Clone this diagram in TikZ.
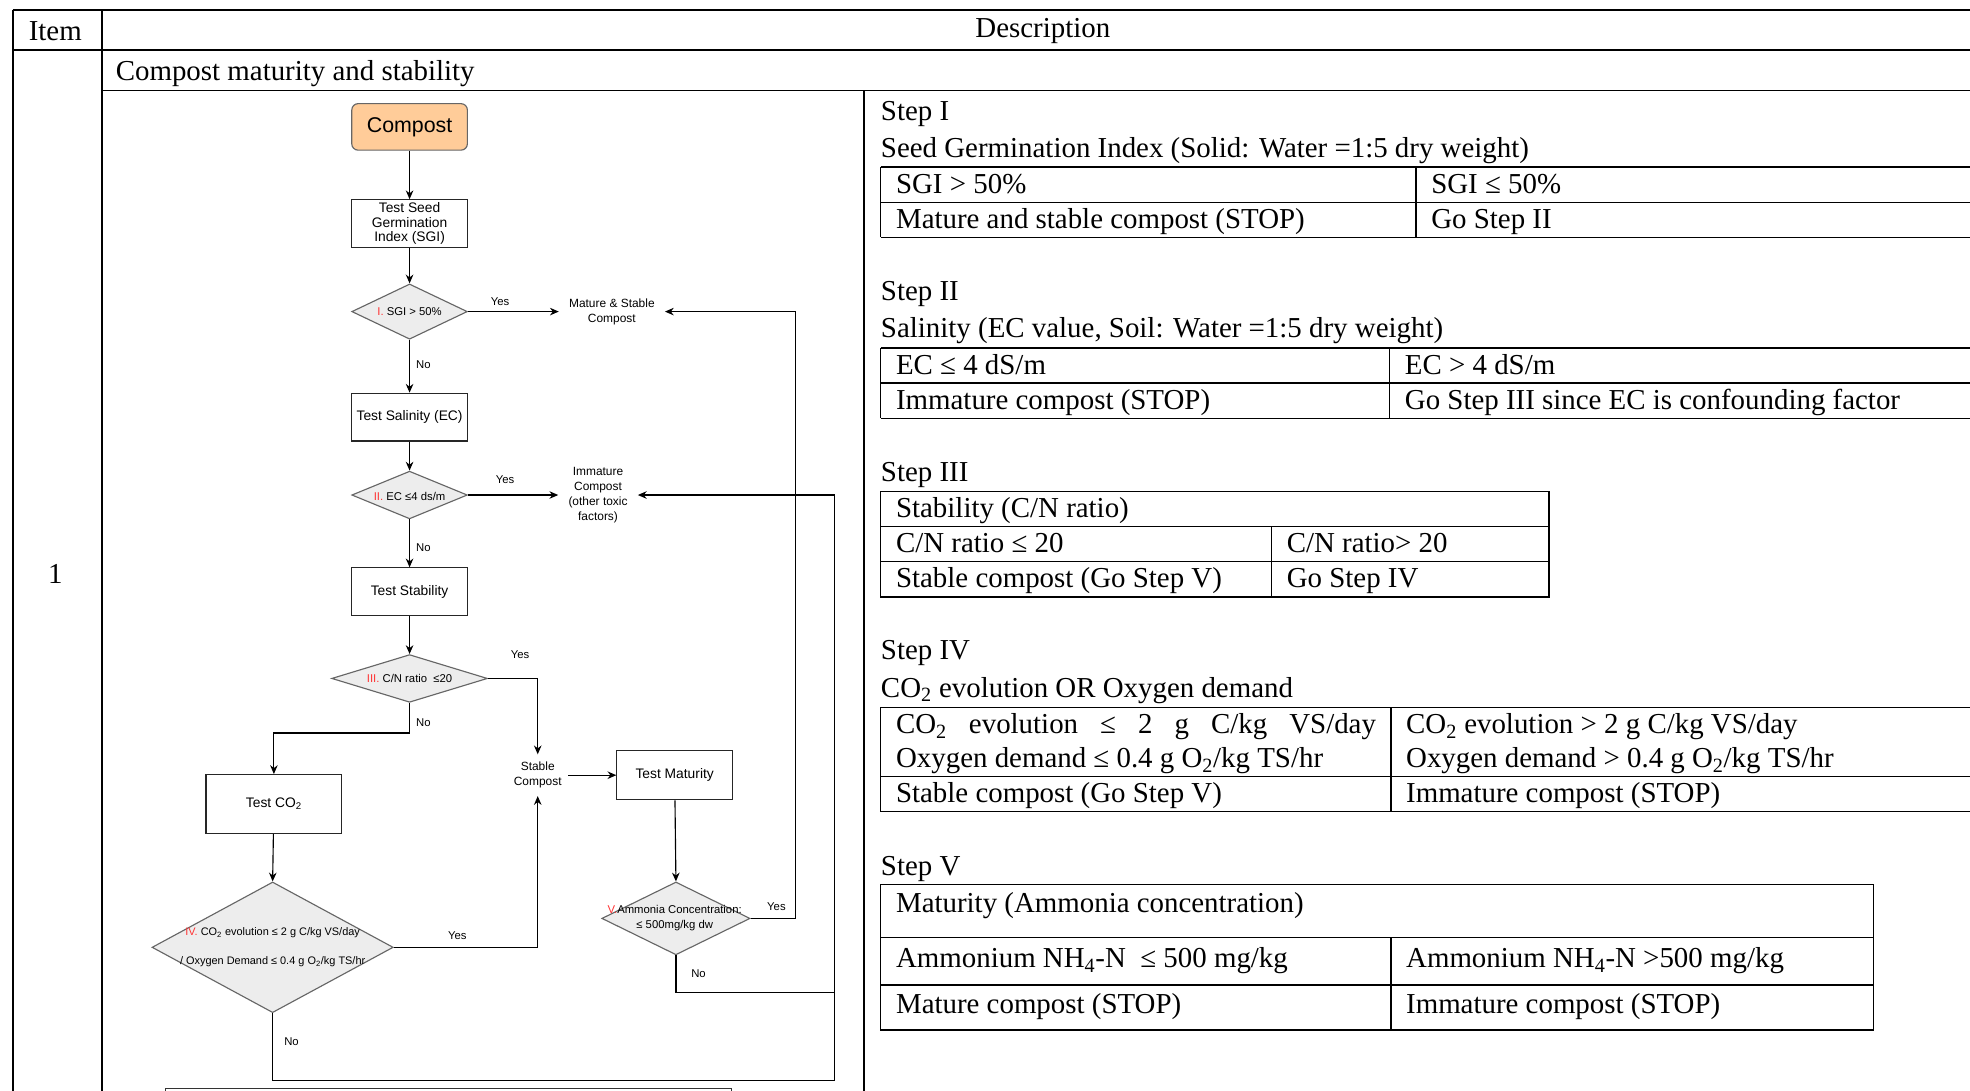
\documentclass[tikz,border=0pt]{standalone}
\usepackage{fontspec}
\setmainfont{Liberation Serif}
\newfontfamily\arial{Liberation Sans}
\usetikzlibrary{shapes.geometric,arrows.meta}
\definecolor{peach}{HTML}{FFCC99}
\definecolor{redtx}{HTML}{FF3333}
\newcommand{\rd}[1]{\textcolor{redtx}{#1}}
\begin{document}
\begin{tikzpicture}[x=1pt,y=-1pt,
  box/.style={draw=black!85, line width=0.9pt, fill=white, inner sep=0pt, align=center, font=\arial\fontsize{11}{11.5}\selectfont},
  dia/.style={shape=diamond, draw=black!60, fill=black!7, line width=0.9pt, inner sep=0pt},
  dtext/.style={inner sep=0pt, align=center, font=\arial\fontsize{9}{12}\selectfont},
  lbl/.style={inner sep=0pt, font=\arial\fontsize{9}{10}\selectfont},
  outl/.style={inner xsep=8pt, inner ysep=2pt, align=center, font=\arial\fontsize{9.5}{12}\selectfont},
  arr/.style={-{Stealth[length=7pt,width=6pt]}, line width=0.9pt},
  conn/.style={line width=0.9pt},
  tline/.style={line width=1.5pt},
  cline/.style={line width=1.2pt},
  tt/.style={anchor=base west, inner sep=0pt, font=\fontsize{23}{27}\selectfont},
  tc/.style={inner sep=0pt, font=\fontsize{23}{27}\selectfont}]
\useasboundingbox (0,0) rectangle (1568,868);
\clip (0,0) rectangle (1568,868);
\fill[white] (0,0) rectangle (1568,868);

% ---- outer table ----
\draw[tline] (10,8) -- (1580,8);
\draw[tline] (10,40) -- (1580,40);
\draw[tline] (81,72) -- (1580,72);
\draw[tline] (10,8) -- (10,880);
\draw[tline] (81,8) -- (81,880);
\draw[tline] (688,72) -- (688,880);
\node[tc] (hitem) at (44,25) {Item};
\node[tc] (hdesc) at (830,25) {Description};
\node[tt] (hcomp) at (92,64) {Compost maturity and stability};
\node[tc] (hone) at (44,457) {1};

% ---- flowchart ----
\node[draw=black!60, line width=0.9pt, fill=peach, rounded corners=5pt, minimum width=92pt, minimum height=37pt, inner sep=0pt, font=\arial\fontsize{17}{18}\selectfont] (comp) at (326,101) {Compost};
\node[box, minimum width=92pt, minimum height=38pt] (sgi) at (326,178) {Test Seed\\Germination\\Index (SGI)};
\node[dia, minimum width=92pt, minimum height=44pt] (d1) at (326,248) {};
\node[dtext] (d1t) at (326,248) {\rd{I.} SGI > 50\%};
\node[outl] (mat) at (487,248) {Mature \& Stable\\Compost};
\node[box, minimum width=92pt, minimum height=38pt] (sal) at (326,332) {Test Salinity (EC)};
\node[dia, minimum width=92pt, minimum height=38pt] (d2) at (326,394) {};
\node[dtext] (d2t) at (326,395) {\rd{II.} EC ≤4 ds/m};
\node[outl] (imm) at (476,394) {Immature\\Compost\\(other toxic\\factors)};
\node[box, minimum width=92pt, minimum height=38pt] (stab) at (326,471) {Test Stability};
\node[dia, minimum width=124pt, minimum height=38pt] (d3) at (326,540) {};
\node[dtext] (d3t) at (326,540) {\rd{III.} C/N ratio\ \ ≤20};
\node[outl, inner xsep=5pt, inner ysep=6pt] (stc) at (428,617) {Stable\\Compost};
\node[box, minimum width=108pt, minimum height=47pt] (co2) at (218,640) {Test CO\textsubscript{2}};
\node[dia, minimum width=192pt, minimum height=104pt] (d4) at (217,754) {};
\node[dtext, font=\arial\fontsize{8.7}{23}\selectfont] (d4t) at (217,754) {\rd{IV.} CO\textsubscript{2} evolution ≤ 2 g C/kg VS/day\\/ Oxygen Demand ≤ 0.4 g O\textsubscript{2}/kg TS/hr};
\node[box, minimum width=92pt, minimum height=39pt] (tmat) at (537,617) {Test Maturity};
\node[dia, minimum width=118pt, minimum height=58pt] (d5) at (538,731) {};
\node[dtext] (d5t) at (537,731) {\rd{V.}Ammonia Concentration:\\≤ 500mg/kg dw};
\node[draw=black!80, line width=1pt, minimum width=451pt, minimum height=40pt, inner sep=0pt, anchor=north west] (nextbox) at (131,866) {};

\coordinate (c1) at (664,860);
\coordinate (c2) at (633,731);
\coordinate (c3) at (664,790);

\draw[arr] (comp) -- (sgi);
\draw[arr] (sgi) -- (d1.north);
\draw[arr] (d1.east) -- (mat.west);
\draw[arr] (d1.south) -- (sal.north);
\draw[arr] (sal) -- (d2.north);
\draw[arr] (d2.east) -- (imm.west);
\draw[arr] (d2.south) -- (stab.north);
\draw[arr] (stab) -- (d3.north);
\draw[arr] (d3.east) -| (stc.north);
\draw[arr] (d3.south) -- ++(0,24) -| (co2.north);
\draw[arr] (co2) -- (d4.north);
\draw[arr] (d4.east) -| (stc.south);
\draw[arr] (d4.south) |- (c1) |- (imm.east);
\draw[arr] (stc.east) -- (tmat.west);
\draw[arr] (tmat) -- (d5.north);
\draw[arr] (d5.east) -- (c2) |- (mat.east);
\draw[conn] (d5.south) |- (c3);

\node[lbl] (y1) at (398,240) {Yes};
\node[lbl] (n1) at (337,290) {No};
\node[lbl] (y2) at (402,382) {Yes};
\node[lbl] (n2) at (337,436) {No};
\node[lbl] (y3) at (414,521) {Yes};
\node[lbl] (n3) at (337,575) {No};
\node[lbl] (y4) at (364,745) {Yes};
\node[lbl] (n4) at (232,829) {No};
\node[lbl] (y5) at (618,722) {Yes};
\node[lbl] (n5) at (556,775) {No};

% ---- Step I ----
\node[tt] (s1) at (701,96) {Step I};
\node[tt] (s1a) at (701,125) {Seed Germination Index (Solid: Water =1:5 dry weight)};
\draw[cline] (701,133) -- (1580,133) (701,161) -- (1580,161) (701,189) -- (1580,189);
\draw[cline] (701,133) -- (701,189) (1127,133) -- (1127,189);
\node[tt] (s1b) at (713,154) {SGI > 50\%};
\node[tt] (s1c) at (1139,154) {SGI ≤ 50\%};
\node[tt] (s1d) at (713,182) {Mature and stable compost (STOP)};
\node[tt] (s1e) at (1139,182) {Go Step II};

% ---- Step II ----
\node[tt] (s2) at (701,239) {Step II};
\node[tt] (s2a) at (701,269) {Salinity (EC value, Soil: Water =1:5 dry weight)};
\draw[cline] (701,277) -- (1580,277) (701,305) -- (1580,305) (701,333) -- (1580,333);
\draw[cline] (701,277) -- (701,333) (1106,277) -- (1106,333);
\node[tt] (s2b) at (713,298) {EC ≤ 4 dS/m};
\node[tt] (s2c) at (1118,298) {EC > 4 dS/m};
\node[tt] (s2d) at (713,326) {Immature compost (STOP)};
\node[tt] (s2e) at (1118,326) {Go Step III since EC is confounding factor};

% ---- Step III ----
\node[tt] (s3) at (701,383) {Step III};
\draw[cline] (701,391) rectangle (1233,475);
\draw[cline] (701,419) -- (1233,419) (701,447) -- (1233,447) (1012,419) -- (1012,475);
\node[tt] (s3a) at (713,412) {Stability (C/N ratio)};
\node[tt] (s3b) at (713,440) {C/N ratio ≤ 20};
\node[tt] (s3c) at (1024,440) {C/N ratio> 20};
\node[tt] (s3d) at (713,468) {Stable compost (Go Step V)};
\node[tt] (s3e) at (1024,468) {Go Step IV};

% ---- Step IV ----
\node[tt] (s4) at (701,525) {Step IV};
\node[tt] (s4a) at (701,555) {CO\textsubscript{2} evolution OR Oxygen demand};
\draw[cline] (701,563) -- (1580,563) (701,618) -- (1580,618) (701,646) -- (1580,646);
\draw[cline] (701,563) -- (701,646) (1107,563) -- (1107,646);
\node[tt] (s4b) at (713,584) {\makebox[382pt][s]{CO\textsubscript{2} evolution ≤ 2 g C/kg VS/day}};
\node[tt] (s4c) at (713,611) {Oxygen demand ≤ 0.4 g O\textsubscript{2}/kg TS/hr};
\node[tt] (s4d) at (1119,584) {CO\textsubscript{2} evolution > 2 g C/kg VS/day};
\node[tt] (s4e) at (1119,611) {Oxygen demand > 0.4 g O\textsubscript{2}/kg TS/hr};
\node[tt] (s4f) at (713,639) {Stable compost (Go Step V)};
\node[tt] (s4g) at (1119,639) {Immature compost (STOP)};

% ---- Step V ----
\node[tt] (s5) at (701,697) {Step V};
\draw[cline] (701,704) rectangle (1491,820);
\draw[cline] (701,746) -- (1491,746) (701,784) -- (1491,784) (1107,746) -- (1107,820);
\node[tt] (s5a) at (713,726) {Maturity (Ammonia concentration)};
\node[tt] (s5b) at (713,770) {Ammonium NH\textsubscript{4}-N\ \ ≤ 500 mg/kg};
\node[tt] (s5c) at (1119,770) {Ammonium NH\textsubscript{4}-N >500 mg/kg};
\node[tt] (s5d) at (713,807) {Mature compost (STOP)};
\node[tt] (s5e) at (1119,807) {Immature compost (STOP)};
\end{tikzpicture}
\end{document}
